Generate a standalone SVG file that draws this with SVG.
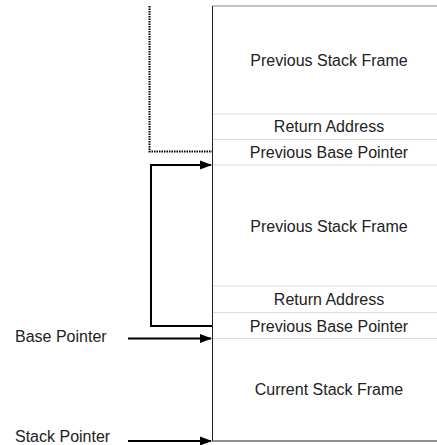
<svg xmlns="http://www.w3.org/2000/svg" width="437" height="445" viewBox="0 0 437 445">
<style>
text{font-family:"Liberation Sans",Arial,sans-serif;font-size:16px;fill:#222}
.c{text-anchor:middle}
.sep{stroke:#dcdcdc;stroke-width:1}
.arr{stroke:#000;stroke-width:2;fill:none}
</style>
<defs>
<marker id="ah" viewBox="0 0 12 10" markerWidth="12" markerHeight="10" refX="11" refY="5" orient="auto" markerUnits="userSpaceOnUse" overflow="visible">
<path d="M0,0.5 L12,5 L0,9.5 Z" fill="#000"/>
</marker>
</defs>
<g id="stack">
<line x1="212" y1="6" x2="437" y2="6" stroke="#888" stroke-width="1"/>
<line class="sep" x1="212" y1="114" x2="437" y2="114"/>
<line class="sep" x1="212" y1="139.5" x2="437" y2="139.5"/>
<line class="sep" x1="212" y1="165" x2="437" y2="165"/>
<line class="sep" x1="212" y1="286" x2="437" y2="286"/>
<line class="sep" x1="212" y1="312.5" x2="437" y2="312.5"/>
<line class="sep" x1="212" y1="338.5" x2="437" y2="338.5"/>
<line x1="212" y1="441" x2="437" y2="441" stroke="#222" stroke-width="1"/>
<line x1="212.5" y1="6" x2="212.5" y2="441" stroke="#222" stroke-width="1"/>
</g>
<g id="frame1"><text class="c" x="329" y="66">Previous Stack Frame</text></g>
<g id="ret1"><text class="c" x="329" y="132">Return Address</text></g>
<g id="pbp1"><text class="c" x="329" y="158">Previous Base Pointer</text></g>
<g id="frame2"><text class="c" x="329" y="232">Previous Stack Frame</text></g>
<g id="ret2"><text class="c" x="329" y="305">Return Address</text></g>
<g id="pbp2"><text class="c" x="329" y="332">Previous Base Pointer</text></g>
<g id="frame3"><text class="c" x="329" y="395">Current Stack Frame</text></g>
<g id="bp"><text x="15" y="342">Base Pointer</text></g>
<g id="sp"><text x="15" y="442">Stack Pointer</text></g>
<g id="connectors">
<path d="M149.5,6 V151.5 H212" fill="none" stroke="#000" stroke-width="2" stroke-dasharray="1.5 1"/>
<path class="arr" d="M212,326 H151 V165 H211" marker-end="url(#ah)"/>
<path class="arr" d="M128,338.5 H211" marker-end="url(#ah)"/>
<path class="arr" d="M128,441 H211" marker-end="url(#ah)"/>
</g>
</svg>
